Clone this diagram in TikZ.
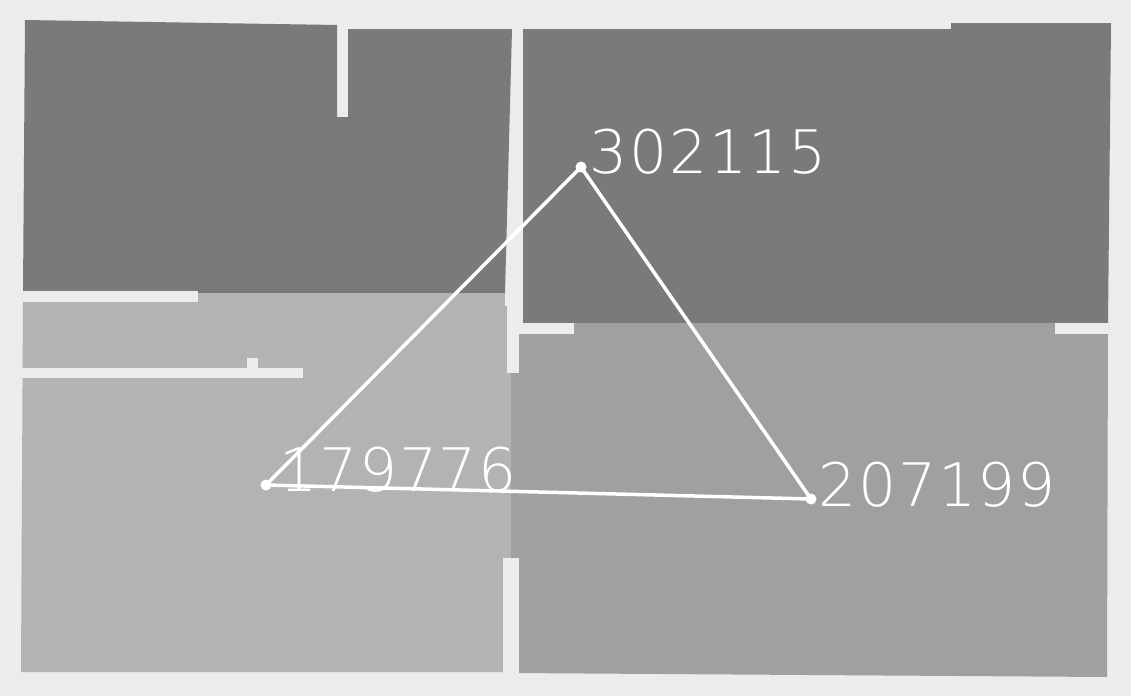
\documentclass[tikz,border=0pt]{standalone}
\usepackage{fontspec}
\newfontfamily\tagfont{DejaVuSans-ExtraLight.ttf}[LetterSpace=3]
\definecolor{floorbg}{HTML}{ECECEC}
\definecolor{roomdark}{HTML}{7A7A7A}
\definecolor{roomlight}{HTML}{B3B3B3}
\definecolor{roommid}{HTML}{A0A0A0}
\tikzset{
	vertex/.style={circle,fill=white,inner sep=0pt,minimum size=11pt},
	tag/.style={text=white,inner sep=0pt,anchor=base west,font=\tagfont\fontsize{60}{60}\selectfont},
	link/.style={draw=white,line width=3.5pt},
	wall/.style={fill=floorbg}
}
\begin{document}
\begin{tikzpicture}[x=1pt,y=-1pt]
						\fill[floorbg] (0,0) rectangle (1131,696);
						\fill[roomdark] (25,20) -- (337,25) -- (337,117) -- (348,117) -- (348,29) -- (512,29) -- (505,293) -- (23,293) -- cycle;
						\fill[roomdark] (523,29) -- (951,29) -- (951,23) -- (1111,23) -- (1108,323) -- (523,323) -- cycle;
						\fill[roomlight] (23,293) -- (511,293) -- (511,672) -- (21,672) -- cycle;
						\fill[roommid] (511,323) -- (1108,323) -- (1107,677) -- (511,673) -- cycle;
						
						\path[wall] (22,291) rectangle (198,302);
						\path[wall] (22,368) rectangle (303,378);
						\path[wall] (247,358) rectangle (258,368);
						\path[wall] (505,293) rectangle (523,306);
						\path[wall] (507,306) rectangle (519,373);
						\path[wall] (519,323) rectangle (574,334);
						\path[wall] (1055,323) rectangle (1108,334);
						\path[wall] (503,558) rectangle (519,678);
						
						\node[vertex] (r302115) at (581,167) {};
						\node[vertex] (r179776) at (266,485) {};
						\node[vertex] (r207199) at (811,499) {};
						\draw[link] (r302115.center) -- (r179776.center) -- (r207199.center) -- cycle;
						
						\node[tag] (t302115) at (589,173) {302115};
						\node[tag] (t179776) at (279,491) {179776};
						\node[tag] (t207199) at (818,506) {207199};
					\end{tikzpicture}
\end{document}
